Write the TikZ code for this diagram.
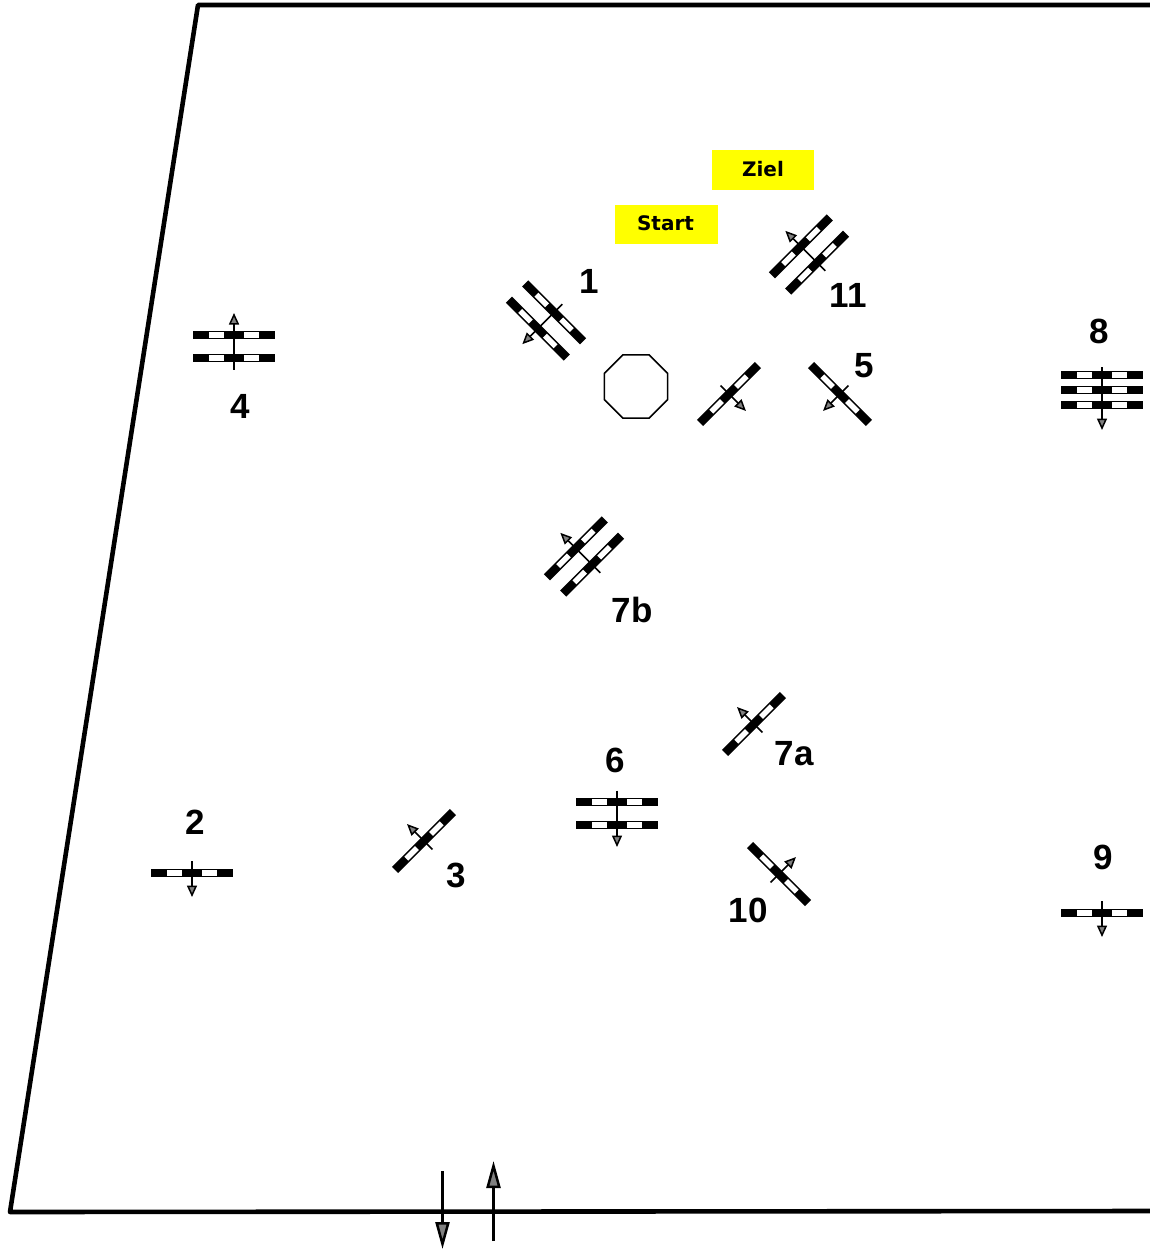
\documentclass[tikz,border=0pt]{standalone}
\usepackage{fontspec}
\setmainfont{Liberation Sans}
\newfontfamily\boxfont{DejaVu Sans}
\usetikzlibrary{arrows.meta,shapes.geometric}
\definecolor{tagyellow}{RGB}{255,255,0}
\definecolor{tipgray}{RGB}{128,128,128}

\tikzset{
  pics/gatebar/.style={code={
    \fill[black] (-41,-4.3) rectangle (41,4.3);
    \fill[white] (-25,-2.8) rectangle (-10,2.8);
    \fill[white] (10,-2.8) rectangle (25,2.8);
  }},
  pics/gate/.style n args={3}{code={
    \foreach \barpos in {#1} {\pic[transform shape] at (0,\barpos) {gatebar};}
    \draw[pole] (0,#2) -- (0,#3);
  }},
  single/.pic={\pic[transform shape] {gate={0}{-12}{24}};},
  double/.pic={\pic[transform shape] {gate={-11.5,11.5}{-23}{33.5}};},
  triple/.pic={\pic[transform shape] {gate={-15,0,15}{-23}{40}};},
}

\begin{document}
\begin{tikzpicture}[
  x=1pt, y=-1pt,
  frame/.style={line width=4.6pt, line join=round, line cap=round},
  pole/.style={line width=1.5pt, -{Triangle[length=11.5pt, width=10pt, fill=tipgray]}},
  lane/.style={line width=2.5pt, -{Triangle[length=27pt, width=14pt, fill=tipgray]}},
  num/.style={font=\bfseries\fontsize{35}{35}\selectfont, inner sep=0pt},
  tag/.style={fill=tagyellow, minimum width=102.5pt, minimum height=39.5pt, inner sep=0pt,
    font=\boxfont\bfseries\fontsize{20}{20}\selectfont},
]
  \useasboundingbox (0,0) rectangle (1149,1249);

  \draw[frame] (1152,5) -- (198,5) -- (10,1212) -- (1152,1211);

  \node[tag] (start) at (666.5,224.5) {\raisebox{2pt}{Start\kern2pt}};
  \node[tag] (ziel) at (763,170) {\raisebox{2pt}{Ziel}};

  \node[draw, regular polygon, regular polygon sides=8, minimum size=68.5pt, inner sep=0pt,
    line width=1.6pt] (octagon) at (636,386.5) {};

  \pic[rotate=-45] at (546,320.5) {double};
  \pic at (192,873) {single};
  \pic[rotate=225] at (424,841) {single};
  \pic[rotate=180] at (234,346.5) {double};
  \pic[rotate=-45] at (840,394) {single};
  \pic[rotate=45] at (729,394) {single};
  \pic at (617,813.5) {double};
  \pic[rotate=225] at (754,724) {single};
  \pic[rotate=225] at (584,556.5) {double};
  \pic at (1102,390) {triple};
  \pic at (1102,913) {single};
  \pic[rotate=135] at (779,874) {single};
  \pic[rotate=225] at (809,254.5) {double};

  \node[num] (n1) at (589,281) {1};
  \node[num] (n2) at (195,822) {2};
  \node[num] (n3) at (456,875) {3};
  \node[num] (n4) at (240,406) {4};
  \node[num] (n5) at (864,366) {5};
  \node[num] (n6) at (615,760) {6};
  \node[num] (n7a) at (794,754) {7a};
  \node[num] (n7b) at (632,610) {7b};
  \node[num] (n8) at (1099,331) {8};
  \node[num] (n9) at (1103,857) {9};
  \node[num] (n10) at (748,910) {10};
  \node[num] (n11) at (848,295) {11};

  \coordinate (infrom) at (442.5,1171);
  \coordinate (into) at (442.5,1249);
  \coordinate (outfrom) at (493.5,1241);
  \coordinate (outto) at (493.5,1161);
  \draw[lane] (infrom) -- (into);
  \draw[lane] (outfrom) -- (outto);
\end{tikzpicture}
\end{document}
